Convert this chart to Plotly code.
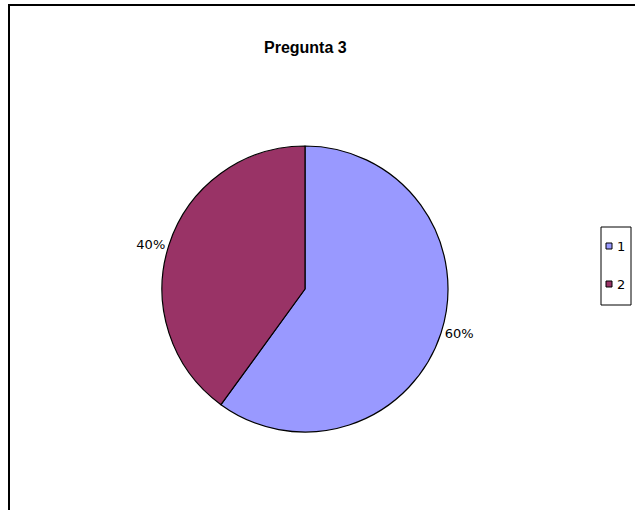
import plotly.graph_objects as go

categories = ["1", "2"]
values = [60, 40]
colors = ["#9999FF", "#993366"]
title_text = "Pregunta 3"

W, H = 635, 510

def px(x):
    return x / W

def py(y):
    return 1 - y / H

cx, cy, r = 305, 289, 143
label_font = dict(family="DejaVu Sans, Verdana, sans-serif", size=13, color="#000000")

fig = go.Figure(go.Pie(
    labels=categories,
    values=values,
    sort=False,
    direction="clockwise",
    rotation=0,
    marker=dict(colors=colors, line=dict(color="#000000", width=1.2)),
    textinfo="percent",
    texttemplate="%{percent:.0%}",
    textposition="outside",
    textfont=label_font,
    showlegend=False,
    domain=dict(x=[px(cx - r), px(cx + r)], y=[py(cy + r), py(cy - r)]),
    hoverinfo="label+percent",
))

shapes = [
    # outer chart frame (extends past right/bottom edges)
    dict(type="rect", xref="paper", yref="paper",
         x0=px(9), x1=px(660), y0=py(540), y1=py(5),
         line=dict(color="#000000", width=2), fillcolor="rgba(0,0,0,0)"),
    # legend box
    dict(type="rect", xref="paper", yref="paper",
         x0=px(601), x1=px(631), y0=py(305), y1=py(227),
         line=dict(color="#000000", width=1), fillcolor="#FFFFFF"),
]
annotations = [
    dict(text="<b>" + title_text + "</b>", x=px(305), y=py(47), xref="paper", yref="paper",
         showarrow=False, xanchor="center", yanchor="middle",
         font=dict(family="Liberation Sans, Arial, sans-serif", size=16, color="#000000")),
]
item_y = [246, 284]
for cat, col, yy in zip(categories, colors, item_y):
    shapes.append(dict(type="rect", xref="paper", yref="paper",
                       x0=px(606), x1=px(612), y0=py(yy + 3), y1=py(yy - 3),
                       line=dict(color="#000000", width=1), fillcolor=col))
    annotations.append(dict(text=cat, x=px(615), y=py(yy), xref="paper", yref="paper",
                            showarrow=False, xanchor="left", yanchor="middle",
                            font=label_font))

fig.update_layout(
    width=W, height=H,
    margin=dict(l=0, r=0, t=0, b=0),
    paper_bgcolor="#FFFFFF",
    plot_bgcolor="#FFFFFF",
    shapes=shapes,
    annotations=annotations,
)

fig.write_html("out.html",
               config={"displayModeBar": False},
               post_script="document.body.style.margin='0';document.body.style.padding='0';")
